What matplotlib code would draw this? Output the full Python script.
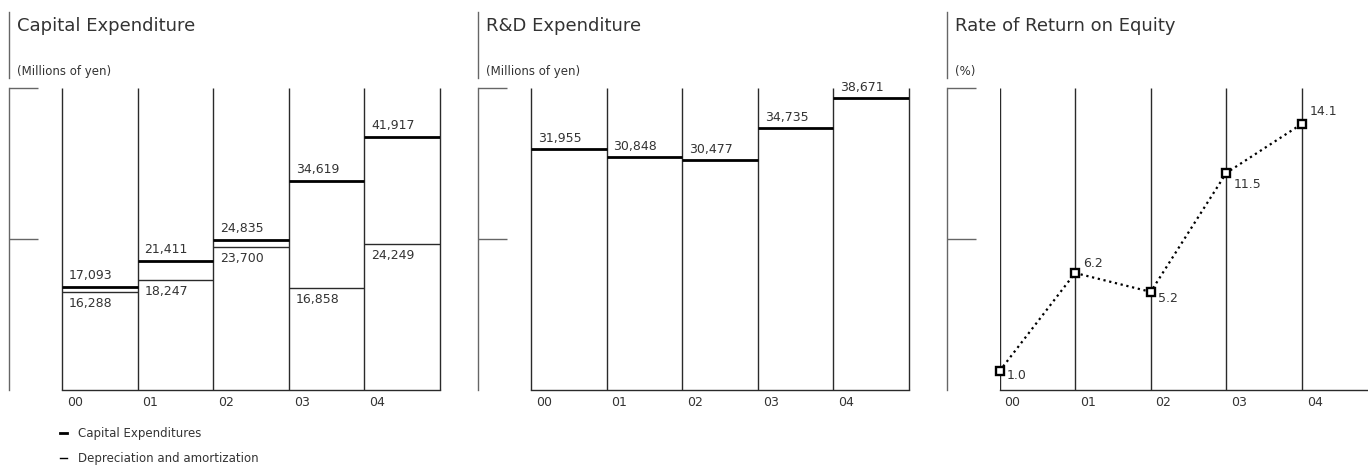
import matplotlib
matplotlib.use("Agg")
import matplotlib.pyplot as plt
from matplotlib.lines import Line2D

plt.rcParams['font.family'] = ['DejaVu Sans']

# ---------------- data ----------------
years = ["00", "01", "02", "03", "04"]
capex = [17093, 21411, 24835, 34619, 41917]
depreciation = [16288, 18247, 23700, 16858, 24249]
rnd = [31955, 30848, 30477, 34735, 38671]
roe = [1.0, 6.2, 5.2, 11.5, 14.1]
roe_labels = ["1.0", "6.2", "5.2", "11.5", "14.1"]

titles = ["Capital Expenditure", "R&D Expenditure", "Rate of Return on Equity"]
units = ["(Millions of yen)", "(Millions of yen)", "(%)"]
legend_labels = ["Capital Expenditures", "Depreciation and amortization"]

# ---------------- style ----------------
W, H = 1368, 465
TXT = '#333333'
LINE = '#2a2a2a'
BRACKET = '#666666'
roe_label_dy = [-3, 7, -5, -8, 9]  # points

fig = plt.figure(figsize=(W / 100, H / 100), dpi=100)
fig.patch.set_facecolor('white')


def fx(x):
    return x / W


def fy(y):
    return 1 - y / H


def add_axes(left_px, right_px, top_px=88, bottom_px=390):
    return fig.add_axes([fx(left_px), fy(bottom_px), (right_px - left_px) / W,
                         (bottom_px - top_px) / H])


def style_axes(ax, ymax):
    for s in ['top', 'right']:
        ax.spines[s].set_visible(False)
    ax.spines['bottom'].set_color(LINE)
    ax.spines['bottom'].set_linewidth(1.0)
    ax.spines['left'].set_position(('outward', 53 * 0.72))
    ax.spines['left'].set_color(BRACKET)
    ax.spines['left'].set_linewidth(1.0)
    ax.set_ylim(0, ymax)
    ax.set_yticks([ymax / 2, ymax])
    ax.set_yticklabels([])
    ax.tick_params(axis='y', direction='in', length=29 * 0.72, width=1.0,
                   color=BRACKET)
    ax.set_xticks([])
    ax.patch.set_alpha(0)


def header(x_line, title, unit):
    fig.add_artist(Line2D([fx(x_line), fx(x_line)], [fy(12), fy(78)],
                          transform=fig.transFigure, color=BRACKET, lw=1.0))
    fig.text(fx(x_line + 8), fy(26), title, fontsize=13, color=TXT,
             ha='left', va='center')
    fig.text(fx(x_line + 8), fy(71), unit, fontsize=8.5, color=TXT,
             ha='left', va='center')


def cat_labels(ax):
    for i, yr in enumerate(years):
        ax.annotate(yr, xy=(i, 0), xytext=(3.5, -9), textcoords='offset points',
                    fontsize=9, color=TXT, ha='left', va='center',
                    annotation_clip=False)


# ---------------- panel 1: Capital Expenditure ----------------
header(9, titles[0], units[0])
ax1 = add_axes(62, 440)
ymax1 = 50000
style_axes(ax1, ymax1)
ax1.set_xlim(0, len(years))
ax1.vlines(range(len(years) + 1), 0, ymax1, color=LINE, lw=1.0, clip_on=False)
for i in range(len(years)):
    ax1.hlines(depreciation[i], i, i + 1, color=LINE, lw=1.0)
    ax1.hlines(capex[i], i, i + 1, color='black', lw=2.0)
    ax1.annotate(f"{capex[i]:,}", xy=(i, capex[i]), xytext=(5, 8),
                 textcoords='offset points', fontsize=9, color=TXT,
                 ha='left', va='center')
    ax1.annotate(f"{depreciation[i]:,}", xy=(i, depreciation[i]), xytext=(5, -8.5),
                 textcoords='offset points', fontsize=9, color=TXT,
                 ha='left', va='center')
cat_labels(ax1)

handles = [Line2D([], [], color='black', lw=2.0),
           Line2D([], [], color='black', lw=1.0)]
leg = fig.legend(handles, legend_labels, loc='upper left',
                 bbox_to_anchor=(fx(60), fy(427)), frameon=False,
                 fontsize=8.5, handlelength=0.6, handletextpad=0.9,
                 labelspacing=1.0, borderaxespad=0, borderpad=0)
for t in leg.get_texts():
    t.set_color(TXT)

# ---------------- panel 2: R&D Expenditure ----------------
header(478, titles[1], units[1])
ax2 = add_axes(531, 909)
ymax2 = 40000
style_axes(ax2, ymax2)
ax2.set_xlim(0, len(years))
ax2.vlines(range(len(years) + 1), 0, ymax2, color=LINE, lw=1.0, clip_on=False)
for i in range(len(years)):
    ax2.hlines(rnd[i], i, i + 1, color='black', lw=2.0)
    ax2.annotate(f"{rnd[i]:,}", xy=(i, rnd[i]), xytext=(5, 7.5),
                 textcoords='offset points', fontsize=9, color=TXT,
                 ha='left', va='center', annotation_clip=False)
cat_labels(ax2)

# ---------------- panel 3: ROE ----------------
header(947, titles[2], units[2])
ax3 = add_axes(999.5, 1368)
ymax3 = 16
style_axes(ax3, ymax3)
ax3.set_xlim(0, (1368 - 999.5) / 75.6)
ax3.vlines(range(len(years)), 0, ymax3, color=LINE, lw=1.0)
ax3.plot(range(len(years)), roe, linestyle=':', color='black', lw=1.6,
         marker='s', markersize=5.5, markerfacecolor='white',
         markeredgecolor='black', markeredgewidth=1.7, clip_on=False, zorder=5)
for i, v in enumerate(roe):
    ax3.annotate(roe_labels[i], xy=(i, v), xytext=(5.5, roe_label_dy[i]),
                 textcoords='offset points', fontsize=9, color=TXT,
                 ha='left', va='center')
cat_labels(ax3)

fig.savefig("out.png", dpi=100, facecolor='white')
